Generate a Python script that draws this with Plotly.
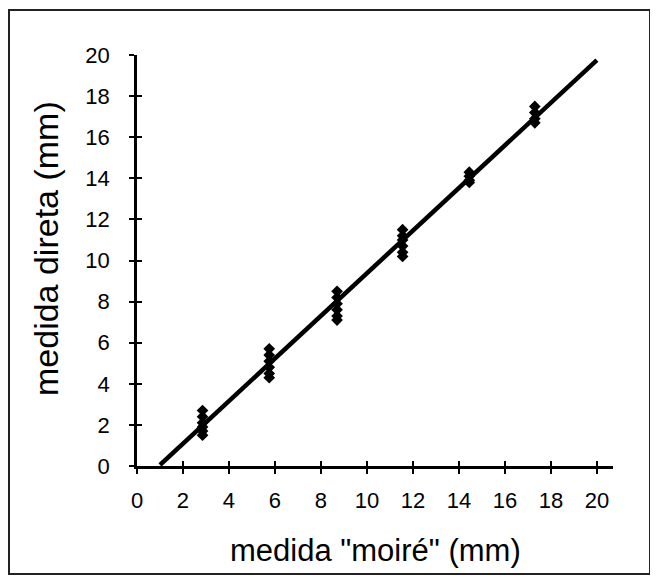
import plotly.graph_objects as go

# Data
x_groups = [2.85, 5.75, 8.7, 11.55, 14.45, 17.3]
y_groups = [
    [2.7, 2.4, 2.1, 1.9, 1.7, 1.5],
    [5.7, 5.4, 5.1, 4.8, 4.5, 4.3],
    [8.5, 8.2, 7.9, 7.6, 7.3, 7.1],
    [11.5, 11.2, 11.0, 10.7, 10.4, 10.2],
    [14.3, 14.1, 13.9, 13.8],
    [17.5, 17.2, 16.9, 16.7],
]
fit_x = [1.0, 20.0]
fit_y = [0.05, 19.75]
x_ticks = [0, 2, 4, 6, 8, 10, 12, 14, 16, 18, 20]
y_ticks = [0, 2, 4, 6, 8, 10, 12, 14, 16, 18, 20]
x_title = 'medida "moiré" (mm)'
y_title = "medida direta (mm)"

px_all, py_all = [], []
for xv, ys in zip(x_groups, y_groups):
    for yv in ys:
        px_all.append(xv)
        py_all.append(yv)

font = "Liberation Sans, Arial, sans-serif"

# page body has an 8px margin: lay out in screen pixels minus that offset
OFF = 8
W, H = 658 - OFF, 580 - OFF
L = 137 - OFF
T = 55 - OFF
R = W - (613 - OFF)
B = H - (466 - OFF)
pw, ph = W - L - R, H - T - B

def px2paper(x):
    return (x - OFF - L) / pw

def py2paper(y):
    return (H - B - (y - OFF)) / ph

fig = go.Figure()
fig.add_trace(go.Scatter(x=fit_x, y=fit_y, mode="lines",
                         line=dict(color="black", width=4.5), showlegend=False))
fig.add_trace(go.Scatter(x=px_all, y=py_all, mode="markers",
                         marker=dict(symbol="diamond", size=9, color="black"),
                         showlegend=False))
# invisible trace to activate the overlay axes (for crossing tick marks)
fig.add_trace(go.Scatter(x=fit_x, y=fit_y, xaxis="x2", yaxis="y2", mode="markers",
                         marker=dict(opacity=0), showlegend=False, hoverinfo="skip"))

fig.add_shape(type="rect", xref="paper", yref="paper",
              x0=px2paper(9), x1=px2paper(650), y0=py2paper(574), y1=py2paper(10),
              line=dict(color="#222222", width=2), fillcolor="rgba(0,0,0,0)")

fig.add_annotation(text=x_title, xref="paper", yref="paper",
                   x=px2paper(375), y=py2paper(550), showarrow=False,
                   xanchor="center", yanchor="middle",
                   font=dict(size=31, family=font, color="black"))
fig.add_annotation(text=y_title, xref="paper", yref="paper",
                   x=px2paper(46), y=py2paper(249), showarrow=False, textangle=-90,
                   xanchor="center", yanchor="middle",
                   font=dict(size=34, family=font, color="black"))

axis_common = dict(ticks="outside", ticklen=5, tickwidth=2, tickcolor="black",
                   showline=True, linecolor="black", linewidth=2.5,
                   showgrid=False, zeroline=False, automargin=False,
                   tickfont=dict(size=22, family=font, color="black"))

fig.update_layout(
    width=W, height=H,
    margin=dict(l=L, r=R, t=T, b=B),
    paper_bgcolor="white", plot_bgcolor="white",
    font=dict(family=font, color="black"),
    xaxis=dict(range=[0, 20.7], tickvals=x_ticks, ticklabelstandoff=8, **axis_common),
    yaxis=dict(range=[0, 20], tickvals=y_ticks, ticklabelstandoff=15, **axis_common),
    xaxis2=dict(range=[0, 20.7], tickvals=x_ticks, overlaying="x", ticks="inside",
                ticklen=5, tickwidth=2, tickcolor="black", showticklabels=False,
                showgrid=False, zeroline=False, showline=False, side="bottom",
                anchor="y2", automargin=False),
    yaxis2=dict(range=[0, 20], tickvals=y_ticks, overlaying="y", ticks="inside",
                ticklen=5, tickwidth=2, tickcolor="black", showticklabels=False,
                showgrid=False, zeroline=False, showline=False, side="left",
                anchor="x2", automargin=False),
)

fig.write_html("out.html")
